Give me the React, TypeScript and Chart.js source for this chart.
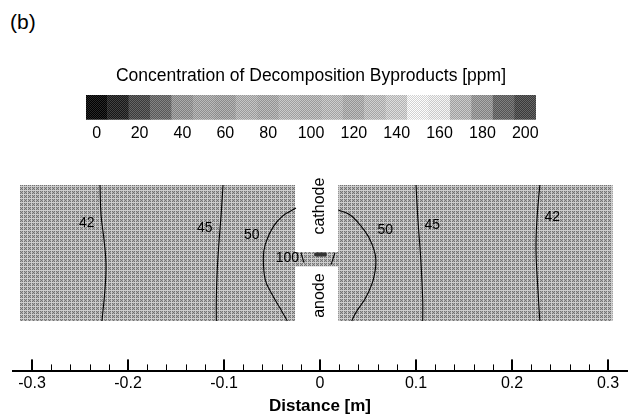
import React, { useEffect, useRef } from 'react';
import { Chart, registerables } from 'chart.js';

Chart.register(...registerables);

const FONT = '"Liberation Sans", Arial, sans-serif';

// ---------- colour bar ----------
const barTitle = 'Concentration of Decomposition Byproducts [ppm]';
const barBinCenters = [0, 10, 20, 30, 40, 50, 60, 70, 80, 90, 100, 110, 120, 130, 140, 150, 160, 170, 180, 190, 200];
const barBinGray = [18, 45, 80, 110, 150, 165, 160, 176, 168, 181, 176, 184, 170, 187, 200, 232, 224, 181, 150, 106, 80];
const barTickValues = [0, 20, 40, 60, 80, 100, 120, 140, 160, 180, 200];

// ---------- distance axis ----------
const distMajorTicks = [-0.3, -0.2, -0.1, 0, 0.1, 0.2, 0.3];
const distMinorTicks = [
  -0.28, -0.26, -0.24, -0.22, -0.18, -0.16, -0.14, -0.12, -0.08, -0.06, -0.04, -0.02,
  0.02, 0.04, 0.06, 0.08, 0.12, 0.14, 0.16, 0.18, 0.22, 0.24, 0.26, 0.28,
];

// ---------- computational domain outline (m) ----------
const domainX = [-0.3125, -0.026, -0.026, 0.019, 0.019, 0.305];
const domainTopY = [0.078, 0.078, 0.008, 0.008, 0.078, 0.078];
const domainBottomY = [-0.064, -0.064, -0.007, -0.007, -0.064, -0.064];

// ---------- iso-concentration contours (m) ----------
const c42LeftX = [-0.2292, -0.2281, -0.225, -0.2229, -0.224, -0.2271];
const c42LeftY = [0.078, 0.047, 0.021, -0.005, -0.031, -0.064];
const c45LeftX = [-0.101, -0.103, -0.105, -0.107, -0.108, -0.108];
const c45LeftY = [0.078, 0.047, 0.021, -0.01, -0.042, -0.064];
const c50LeftX = [-0.025, -0.0385, -0.049, -0.057, -0.059, -0.057, -0.05, -0.042, -0.034];
const c50LeftY = [0.054, 0.046, 0.034, 0.016, 0.002, -0.021, -0.036, -0.05, -0.064];
const c50RightX = [0.019, 0.031, 0.042, 0.052, 0.058, 0.056, 0.048, 0.0375, 0.033];
const c50RightY = [0.052, 0.047, 0.036, 0.021, 0.002, -0.019, -0.039, -0.055, -0.064];
const c45RightX = [0.1, 0.102, 0.105, 0.107, 0.107];
const c45RightY = [0.078, 0.042, 0.0, -0.042, -0.064];
const c42RightX = [0.229, 0.226, 0.225, 0.227, 0.229];
const c42RightY = [0.078, 0.042, 0.01, -0.031, -0.064];
const c100aX = [-0.0198, -0.0167];
const c100aY = [0.0073, -0.0031];
const c100bX = [0.0156, 0.0115];
const c100bY = [0.0073, -0.0052];
const coreX = [-0.004, 0.005];
const coreY = [0.0055, 0.0055];

const contourLabelText = ['42', '45', '50', '100', '50', '45', '42'];
const contourLabelX = [-0.243, -0.12, -0.071, -0.034, 0.068, 0.117, 0.242];
const contourLabelY = [0.0385, 0.033, 0.026, 0.002, 0.031, 0.036, 0.044];

const electrodeText = ['cathode', 'anode'];
const electrodeX = [0.0, 0.0];
const electrodeY = [0.056, -0.0375];

function pts(xs: number[], ys: number[]) {
  return xs.map((x, i) => ({ x, y: ys[i] }));
}

const grayCss = (v: number) => `rgb(${v},${v},${v})`;

function makePattern(a: number, b: number): CanvasPattern | string {
  const c = document.createElement('canvas');
  c.width = 2;
  c.height = 2;
  const g = c.getContext('2d');
  if (!g) return grayCss(a);
  g.fillStyle = grayCss(a);
  g.fillRect(0, 0, 2, 2);
  g.fillStyle = grayCss(b);
  g.fillRect(0, 0, 1, 1);
  g.fillRect(1, 1, 1, 1);
  return g.createPattern(c, 'repeat') || grayCss(a);
}

// halftone-like texture: checker cells separated by light grid lines
function makeTexture(dark: number, mid: number, light: number): CanvasPattern | string {
  const c = document.createElement('canvas');
  c.width = 4;
  c.height = 4;
  const g = c.getContext('2d');
  if (!g) return grayCss(mid);
  for (let i = 0; i < 4; i++) {
    for (let j = 0; j < 4; j++) {
      const v = i === 3 || j === 3 ? light : (i + j) % 2 === 0 ? dark : mid;
      g.fillStyle = grayCss(v);
      g.fillRect(i, j, 1, 1);
    }
  }
  return g.createPattern(c, 'repeat') || grayCss(mid);
}

const clamp = (v: number) => Math.max(0, Math.min(255, v));

function ColorBar() {
  const ref = useRef<HTMLCanvasElement>(null);
  useEffect(() => {
    if (!ref.current) return;
    const colors = barBinGray.map((g) => makePattern(clamp(g - 22), clamp(g + 22)));
    const chart = new Chart(ref.current, {
      type: 'bar',
      data: {
        labels: barBinCenters.map(String),
        datasets: [
          {
            data: barBinCenters.map(() => 1),
            backgroundColor: colors as any,
            borderWidth: 0,
            barPercentage: 1,
            categoryPercentage: 1,
          },
        ],
      },
      options: {
        animation: false,
        responsive: false,
        layout: { padding: { left: 86, right: 95, top: 0, bottom: 3 } },
        plugins: {
          legend: { display: false },
          tooltip: { enabled: false },
          title: {
            display: true,
            text: barTitle,
            color: '#000',
            font: { family: FONT, size: 17.5, weight: 'normal' },
            padding: { top: 6, bottom: 8 },
          },
        },
        scales: {
          x: { type: 'category', display: false, offset: true },
          x2: {
            type: 'linear',
            position: 'bottom',
            offset: false,
            min: -5,
            max: 205,
            afterBuildTicks: (s: any) => {
              s.ticks = barTickValues.map((v) => ({ value: v }));
            },
            ticks: { color: '#000', font: { family: FONT, size: 16 }, padding: 4, callback: (v: any) => String(v) },
            grid: { display: false, drawTicks: false, offset: false },
            border: { display: false },
          },
          y: { display: false, min: 0, max: 1 },
        },
      } as any,
    });
    return () => chart.destroy();
  }, []);
  return (
    <canvas
      ref={ref}
      width={631}
      height={90}
      style={{ position: 'absolute', left: 0, top: 60, width: 631, height: 90 }}
    />
  );
}

const overlayPlugin = {
  id: 'overlay',
  afterDraw(chart: any) {
    const ctx = chart.ctx as CanvasRenderingContext2D;
    const xs = chart.scales.x;
    const ys = chart.scales.y;
    const base = xs.top;
    ctx.save();
    ctx.fillStyle = '#000';
    distMajorTicks.forEach((v) => {
      const px = Math.round(xs.getPixelForValue(v));
      ctx.fillRect(px - 1, base - 12, 2, 12);
    });
    distMinorTicks.forEach((v) => {
      const px = Math.round(xs.getPixelForValue(v));
      ctx.fillRect(px, base - 7, 1, 7);
    });
    ctx.font = `14px ${FONT}`;
    ctx.textAlign = 'center';
    ctx.textBaseline = 'middle';
    contourLabelText.forEach((t, i) => {
      ctx.fillText(t, xs.getPixelForValue(contourLabelX[i]), ys.getPixelForValue(contourLabelY[i]));
    });
    ctx.font = `16px ${FONT}`;
    electrodeText.forEach((t, i) => {
      ctx.save();
      ctx.translate(xs.getPixelForValue(electrodeX[i]), ys.getPixelForValue(electrodeY[i]));
      ctx.rotate(-Math.PI / 2);
      ctx.fillText(t, 0, 0);
      ctx.restore();
    });
    ctx.restore();
  },
};

function ContourChart() {
  const ref = useRef<HTMLCanvasElement>(null);
  useEffect(() => {
    if (!ref.current) return;
    const texture = makeTexture(115, 172, 205);
    const contour = (xs: number[], ys: number[]) => ({
      data: pts(xs, ys),
      borderColor: '#000',
      borderWidth: 1.1,
      tension: 0.4,
      fill: false,
      pointRadius: 0,
      order: 1,
    });
    const chart = new Chart(ref.current, {
      type: 'line',
      data: {
        datasets: [
          {
            data: pts(domainX, domainTopY),
            borderWidth: 0,
            borderColor: 'rgba(0,0,0,0)',
            backgroundColor: texture as any,
            fill: '+1',
            tension: 0,
            pointRadius: 0,
            order: 10,
          },
          {
            data: pts(domainX, domainBottomY),
            borderWidth: 0,
            borderColor: 'rgba(0,0,0,0)',
            fill: false,
            tension: 0,
            pointRadius: 0,
            order: 10,
          },
          contour(c42LeftX, c42LeftY),
          contour(c45LeftX, c45LeftY),
          contour(c50LeftX, c50LeftY),
          contour(c50RightX, c50RightY),
          contour(c45RightX, c45RightY),
          contour(c42RightX, c42RightY),
          contour(c100aX, c100aY),
          contour(c100bX, c100bY),
          { ...contour(coreX, coreY), borderWidth: 4, borderColor: '#333', borderCapStyle: 'round' },
        ],
      },
      options: {
        animation: false,
        responsive: false,
        layout: { padding: { left: 12.8, right: 3.8, top: 0, bottom: 0 } },
        plugins: { legend: { display: false }, tooltip: { enabled: false }, title: { display: false } },
        elements: { point: { radius: 0 } },
        scales: {
          x: {
            type: 'linear',
            min: -0.32,
            max: 0.32,
            afterBuildTicks: (s: any) => {
              s.ticks = distMajorTicks.map((v) => ({ value: v }));
            },
            ticks: {
              color: '#000',
              font: { family: FONT, size: 16 },
              padding: 3,
              callback: (v: any) => String(Math.round(Number(v) * 10) / 10),
            },
            grid: { display: false, drawTicks: false },
            border: { display: true, color: '#000', width: 2 },
            title: {
              display: true,
              text: 'Distance [m]',
              color: '#000',
              font: { family: FONT, size: 17, weight: 'bold' },
              padding: { top: 0, bottom: 2 },
            },
          },
          y: { type: 'linear', min: -0.1167, max: 0.0885, display: false },
        },
      } as any,
      plugins: [overlayPlugin],
    });
    return () => chart.destroy();
  }, []);
  return (
    <canvas
      ref={ref}
      width={631}
      height={244}
      style={{ position: 'absolute', left: 0, top: 175, width: 631, height: 244 }}
    />
  );
}

export default function App() {
  return (
    <div style={{ position: 'fixed', left: 0, top: 0, width: 631, height: 419, background: '#fff', overflow: 'hidden' }}>
      <div
        style={{
          position: 'absolute',
          left: 10,
          top: 9,
          fontFamily: FONT,
          fontSize: 21,
          lineHeight: '26px',
          color: '#000',
        }}
      >
        (b)
      </div>
      <ColorBar />
      <ContourChart />
    </div>
  );
}
